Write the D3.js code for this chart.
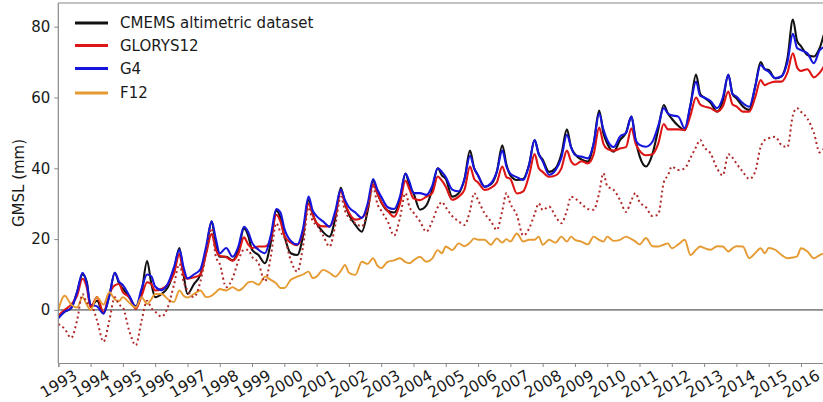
<!DOCTYPE html>
<html>
<head>
<meta charset="utf-8">
<script src="https://cdn.jsdelivr.net/npm/d3@7/dist/d3.min.js"></script>
<style>
  html, body { margin: 0; padding: 0; background: #fff; }
  svg { display: block; }
  text { font-family: "DejaVu Sans", sans-serif; }
</style>
</head>
<body>
<svg id="chart" width="823" height="402"></svg>
<script>
// ---- data ----
const years = d3.range(1993, 2017);
const phases = [0, 0.2, 0.4, 0.58, 0.75, 0.88];
const yTicks = [0, 20, 40, 60, 80];
const xTickYears = d3.range(1993, 2017);

const seriesNames = ["CMEMS altimetric dataset", "GLORYS12", "G4", "F12"];

const cmems = [
  -2, -0.5, 0.5, 5, 10, 8,
  1, 2.6, -1, 4, 10.5, 7.5,
  6, 3.5, 1, 5, 13.8, 7.5,
  3.6, 4.5, 6.5, 11, 17.5, 10,
  4.5, 7.3, 10, 17, 25, 18,
  15, 15, 14, 17, 23, 21,
  17, 15.5, 13.2, 19, 28, 26,
  21, 16, 15.5, 21, 31, 27,
  24.5, 22, 20.7, 26, 34.5, 30,
  27, 24, 22.1, 28, 36.5, 33,
  30.5, 28, 27.5, 31, 38.5, 35,
  33, 28.3, 29.5, 34, 40, 38,
  37, 32, 33, 37, 45, 40,
  38, 34.8, 35.5, 39, 46.5, 41,
  38, 36.7, 37, 41, 48, 44,
  42.5, 39, 40, 44, 51, 46,
  44, 42.5, 41.9, 47, 56.3, 50,
  47, 44.7, 48, 50, 54.6, 48,
  43.5, 40.5, 44, 51, 57.9, 55.5,
  54, 52, 50.8, 58, 66.5, 61,
  60, 58.5, 56, 59, 66.5, 61,
  59.8, 57.5, 56.5, 63, 70, 68,
  67.8, 65.4, 66, 71, 82, 76,
  74.5, 72, 71.6, 74, 78.7, 80
];

const glorys12 = [
  -1.6, 0, 1.5, 4, 8.8, 6.4,
  0.8, 3.6, -0.7, 4.5, 6.9, 7.3,
  5, 3.6, 0.3, 4, 7.8, 7.3,
  5.5, 5.9, 7.3, 10.2, 15.8, 10,
  8.8, 9.2, 10, 16, 21.5, 17,
  15.3, 14.9, 13.9, 16, 20.5, 18.5,
  17.5, 17.9, 17.9, 20, 26.9, 25,
  21, 19, 18.3, 22, 30, 27,
  24.5, 23.6, 23.6, 27, 33.5, 30,
  27.5, 25.5, 26, 29, 35.5, 33,
  30.5, 28, 26.3, 30, 36.5, 34,
  31.5, 31, 32, 33, 37.7, 36.5,
  34.8, 31.1, 32, 34, 40.5, 37,
  36, 33.9, 34.5, 36, 40.5, 37.5,
  37, 32.9, 33.5, 38, 44, 40,
  39, 37.6, 38, 40, 45, 42,
  41, 42, 41.4, 44, 51.5, 47,
  45.5, 45, 45.6, 46, 51.3, 47,
  45, 43.7, 44, 47, 52.5, 51,
  51, 51, 50.8, 55, 60, 58,
  57.5, 57, 56, 57.5, 61.7, 58,
  57.5, 56, 56, 60, 64.9, 63.5,
  64, 64.5, 64.5, 67, 72.5, 68.5,
  67.5, 68, 65.7, 67, 69.2, 70
];

const g4 = [
  -2.4, -0.5, 0.5, 5, 10.5, 7.5,
  1.5, 1, -1, 4, 10.5, 8,
  7, 4, 0.8, 6, 10, 9.5,
  6.6, 5.6, 7.5, 12, 17, 12,
  8.9, 10, 11.5, 18, 25, 20,
  16, 17.5, 15, 18, 23.5, 22,
  19, 17, 16, 21, 28.5, 27.5,
  23, 19.5, 18.5, 23, 32, 28,
  26.5, 25, 23.5, 28, 34, 31,
  29, 27.5, 26, 30, 37, 34,
  32, 29, 28.5, 32, 38.5, 36,
  33, 33, 32.5, 35, 40, 39,
  37.5, 34, 33.5, 37, 43.5, 40,
  38, 34.8, 35.8, 39, 45, 40.5,
  38.5, 37.5, 36.7, 41, 48, 44,
  42, 38.2, 39.5, 43, 49.5, 46,
  43.8, 43.3, 42.8, 47, 55.5, 51,
  48, 46, 49, 50, 54.6, 48,
  46.6, 46.1, 47.5, 52, 57, 55.5,
  55, 54.6, 51.3, 58, 64.5, 60.5,
  60, 59, 57, 60, 66.4, 61,
  60.3, 58.4, 57.4, 63, 69.2, 68,
  67.3, 65.5, 66, 70, 78, 74,
  73.4, 72.5, 69.7, 73.4, 74.4, 75
];

const f12 = [
  0, 4, 1.5, 0.7, 3.6, 1.5,
  0, 3.6, 1.5, 5, 3, 2.5,
  3.6, 2, 0.7, 3.6, 1.7, 3,
  4.5, 4.5, 3, 2.2, 5.5, 4,
  3.5, 4.5, 5.5, 3.6, 4, 5,
  5.9, 5.5, 6.4, 5.5, 6.5, 7.8,
  8, 7.1, 9.4, 8.5, 7.5, 6.2,
  6.2, 8.5, 9.4, 10, 10.8, 9,
  9.4, 11.3, 10.5, 9.4, 11, 12.7,
  10.5, 9.9, 13.6, 13, 14.6, 12.5,
  11.8, 13.6, 14, 14.6, 13.5, 13.2,
  14, 15, 13.6, 14.5, 16.9, 16,
  17.9, 16.9, 18.8, 18, 19, 20.2,
  19.8, 19.8, 18.4, 20.2, 19, 20,
  19.3, 21.6, 19.3, 19.8, 19.8, 20.7,
  18.4, 19.8, 19, 20.7, 19.3, 20.7,
  19.8, 19.3, 18.5, 20.7, 19.8, 19.3,
  20.7, 19.5, 19.8, 20.7, 20, 19.3,
  18.5, 20.3, 18, 17.9, 18.4, 18.8,
  17.4, 18.5, 19.8, 15.5, 17, 17.9,
  17.5, 17, 18, 17.9, 16.5, 17.4,
  18, 17.9, 14.6, 16, 17.4, 16,
  17.5, 17, 15.5, 14.6, 14.8, 15.1,
  17.4, 16.5, 14.6, 15.5, 16, 16
];

const dottedSeries = [
  -4, -5.4, -7.9, -3, 4.5, 2,
  1.7, -3, -9, -3, 3.6, 1.5,
  0.7, -6, -10, -3, 2.6, 0.5,
  -0.5, -1.9, 1, 7, 13, 8,
  5.5, 3.6, 8, 16, 23, 15,
  13, 6.4, 9, 14, 17, 17,
  15, 13.2, 8, 15, 24.5, 22,
  20.5, 14, 10.8, 18, 29, 25,
  24, 21, 17.9, 24, 32, 28,
  26, 24.5, 23.6, 28, 34.8, 30,
  28, 25, 21, 26, 33, 29,
  27.5, 25, 22.1, 25, 29, 30.5,
  29, 26.5, 25, 24, 28, 33,
  31, 27.3, 25, 22.6, 28, 33,
  30, 26.8, 21, 23, 27, 30.1,
  28.2, 29.2, 26.4, 24.5, 28, 32,
  31.5, 30, 28.5, 28.3, 33, 38.6,
  35, 33.9, 31, 27.7, 31, 33,
  30.5, 29, 26.5, 27, 36, 38,
  40.5, 39.5, 40, 43, 46, 48,
  46, 44.2, 40, 38, 44, 43,
  41.4, 39, 37, 39, 46, 48,
  48.5, 48.9, 46.5, 46, 55, 57,
  56, 54, 50, 44.5, 46, 47
];

// ---- layout ----
const svg = d3.select("#chart");
const margin = { left: 58.3, top: 3, bottom: 363 };
const x = d3.scaleLinear().domain([1993, 2017]).range([margin.left, margin.left + 24 * 32.29]);
const y = d3.scaleLinear().domain([-15, 86.7]).range([margin.bottom, margin.top]);

const times = [];
years.forEach(yr => phases.forEach(p => times.push(yr + p)));

svg.append("defs").append("clipPath").attr("id", "plotclip")
  .append("rect")
  .attr("x", x(1993)).attr("y", y(86.7))
  .attr("width", x(2017) - x(1993)).attr("height", y(-15) - y(86.7));

// zero line
svg.append("line")
  .attr("x1", x(1993)).attr("x2", 823)
  .attr("y1", y(0)).attr("y2", y(0))
  .attr("stroke", "#8a8a8a").attr("stroke-width", 1.6);

const line = d3.line()
  .x((d, i) => x(times[i]))
  .y(d => y(d))
  .curve(d3.curveMonotoneX);

const g = svg.append("g").attr("clip-path", "url(#plotclip)");

const styles = [
  { data: cmems, color: "#111111", w: 2.1, dash: null },
  { data: glorys12, color: "#dd1515", w: 2.1, dash: null },
  { data: g4, color: "#1515dd", w: 2.1, dash: null },
  { data: f12, color: "#e59a32", w: 1.9, dash: null },
  { data: dottedSeries, color: "#b02a2a", w: 2.0, dash: "2,3" }
];
styles.forEach(s => {
  g.append("path")
    .datum(s.data)
    .attr("d", line)
    .attr("fill", "none")
    .attr("stroke", s.color)
    .attr("stroke-width", s.w)
    .attr("stroke-linejoin", "round")
    .attr("stroke-dasharray", s.dash);
});

// axes
const axisColor = "#888";
const xAxis = svg.append("g")
  .attr("transform", `translate(0,${y(-15)})`)
  .call(d3.axisBottom(x).tickValues(xTickYears).tickFormat(d3.format("d")).tickSize(4).tickPadding(6));
xAxis.select(".domain").attr("stroke", axisColor).attr("stroke-width", 1.2);
xAxis.selectAll(".tick line").attr("stroke", axisColor);
xAxis.selectAll(".tick text")
  .attr("fill", "#1a1a1a")
  .style("font-size", "15.5px")
  .attr("text-anchor", "middle")
  .attr("dy", null)
  .attr("y", 0)
  .attr("transform", "translate(0,21) rotate(-30)")
  .attr("dominant-baseline", "central");

const yAxis = svg.append("g")
  .attr("transform", `translate(${x(1993)},0)`)
  .call(d3.axisLeft(y).tickValues(yTicks).tickSize(4).tickPadding(4));
yAxis.select(".domain").remove();
yAxis.selectAll(".tick line").attr("stroke", axisColor);
yAxis.selectAll(".tick text").attr("fill", "#1a1a1a").style("font-size", "15px");

// frame: left and top spines
svg.append("line")
  .attr("x1", x(1993)).attr("x2", x(1993))
  .attr("y1", y(86.7)).attr("y2", y(-15))
  .attr("stroke", axisColor).attr("stroke-width", 1.2);
svg.append("line")
  .attr("x1", x(1993)).attr("x2", 823)
  .attr("y1", y(86.7)).attr("y2", y(86.7))
  .attr("stroke", axisColor).attr("stroke-width", 1.2);

// y label
svg.append("text")
  .attr("transform", `translate(19,${(y(86.7) + y(-15)) / 2}) rotate(-90)`)
  .attr("text-anchor", "middle")
  .attr("dominant-baseline", "central")
  .style("font-size", "15px")
  .attr("fill", "#1a1a1a")
  .text("GMSL (mm)");

// legend
const legend = svg.append("g");
const legendRows = [23, 45.5, 68.5, 93];
seriesNames.forEach((name, i) => {
  const row = legend.append("g").attr("transform", `translate(0,${legendRows[i]})`);
  row.append("line")
    .attr("x1", 75).attr("x2", 108).attr("y1", 0).attr("y2", 0)
    .attr("stroke", styles[i].color).attr("stroke-width", 3);
  row.append("text")
    .attr("x", 120).attr("y", 0)
    .attr("dominant-baseline", "central")
    .style("font-size", "15px")
    .attr("fill", "#1a1a1a")
    .text(name);
});
</script>
</body>
</html>
